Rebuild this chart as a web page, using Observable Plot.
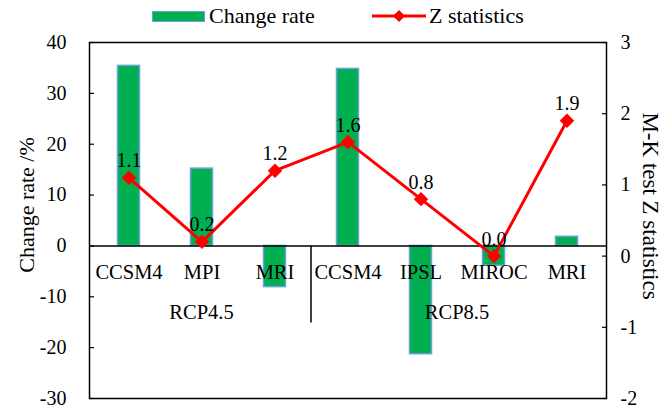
<!DOCTYPE html>
<html><head><meta charset="utf-8">
<script src="https://cdn.jsdelivr.net/npm/d3@7"></script>
<script src="https://cdn.jsdelivr.net/npm/@observablehq/plot@0.6"></script>
<style>
body{margin:0;background:#fff;font-family:"Liberation Serif","Times New Roman",serif;}
#wrap{position:relative;width:665px;height:410px;overflow:hidden;}
#legend{position:relative;height:30px;font-size:22px;color:#000;}
#legend .item{position:absolute;top:0;height:32px;display:flex;align-items:center;white-space:nowrap;}
#chart svg, #chart svg text{font-family:"Liberation Serif","Times New Roman",serif !important;}
</style></head><body>
<div id="wrap"><div id="legend"></div><div id="chart"></div></div>
<script>
const scenarios = ["RCP4.5","RCP4.5","RCP4.5","RCP8.5","RCP8.5","RCP8.5","RCP8.5"];
const models = ["CCSM4","MPI","MRI","CCSM4","IPSL","MIROC","MRI"];
const changeRate = [35.4, 15.2, -8.1, 34.8, -21.3, -3.9, 1.8];
const zStat = [1.1, 0.2, 1.2, 1.6, 0.8, 0.0, 1.9];
const leftTicks = [-30, -20, -10, 0, 10, 20, 30, 40];
const rightTicks = [-2, -1, 0, 1, 2, 3];
const leftDomain = [-30, 40];
const rightDomain = [-2, 3];
const seriesNames = ["Change rate", "Z statistics"];
const leftTitle = "Change rate /%";
const rightTitle = "M-K test Z statistics";

const data = models.map((m, i) => ({key: scenarios[i] + " " + m, scenario: scenarios[i], model: m, rate: changeRate[i], z: zStat[i]}));
const k = (leftDomain[1] - leftDomain[0]) / (rightDomain[1] - rightDomain[0]);
const zToY = z => leftDomain[0] + (z - rightDomain[0]) * k;
const yToZ = y => rightDomain[0] + (y - leftDomain[0]) / k;

const GREEN = "#00B050", BAR_STROKE = "#6FA0DC", RED = "#FF0000";
const FONT = "Liberation Serif, Times New Roman, serif";

// legend
const legend = d3.select("#legend");
const it1 = legend.append("div").attr("class", "item").style("left", "152px");
it1.append("span").style("display", "inline-block").style("width", "51px").style("height", "9px")
  .style("background", GREEN).style("border", "1.5px solid " + BAR_STROKE).style("margin-right", "4px");
it1.append("span").text(seriesNames[0]);
const it2 = legend.append("div").attr("class", "item").style("left", "372px");
const sw = it2.append("svg").attr("width", 54).attr("height", 16).style("margin-right", "3px");
sw.append("line").attr("x1", 0).attr("x2", 54).attr("y1", 8).attr("y2", 8).attr("stroke", RED).attr("stroke-width", 3);
sw.append("path").attr("d", "M27,2L33,8L27,14L21,8Z").attr("fill", RED);
it2.append("span").text(seriesNames[1]);

const chart = Plot.plot({
  width: 665, height: 380,
  marginTop: 12, marginBottom: 12, marginLeft: 89, marginRight: 59,
  style: {fontFamily: FONT, fontSize: "20px", color: "#000", background: "#fff", overflow: "visible"},
  x: {type: "band", domain: data.map(d => d.key), padding: 0, axis: null},
  y: {domain: leftDomain, axis: null},
  marks: [
    Plot.barY(data, {x: "key", y: "rate", fill: GREEN, stroke: BAR_STROKE, strokeWidth: 1.5, insetLeft: 25.5, insetRight: 25.5}),
    Plot.ruleY([0], {stroke: "#000", strokeWidth: 1.5}),
    Plot.frame({stroke: "#000", strokeWidth: 1.5}),
    Plot.axisY({anchor: "left", ticks: leftTicks, tickSize: -5, tickPadding: 28, tickFormat: d => String(d), label: null, fontSize: 20, fontFamily: FONT, strokeWidth: 1.2}),
    Plot.axisY({anchor: "right", ticks: rightTicks.map(zToY), tickSize: -5, tickPadding: 19, tickFormat: v => String(Math.round(yToZ(v))), label: null, fontSize: 20, fontFamily: FONT, strokeWidth: 1.2}),
    Plot.line(data, {x: "key", y: d => zToY(d.z), stroke: RED, strokeWidth: 3}),
    Plot.dot(data, {x: "key", y: d => zToY(d.z), symbol: "diamond2", r: 6.5, fill: RED, stroke: null}),
    Plot.text(data, {x: "key", y: d => zToY(d.z), text: d => d.z.toFixed(1), dy: -17, fontSize: 20, fontFamily: FONT, fill: "#000"}),
    Plot.text(data, {x: "key", y: () => 0, text: "model", dy: 27, fontSize: 20.5, fontFamily: FONT, fill: "#000"})
  ]
});
document.getElementById("chart").appendChild(chart);

// group labels, dividers and axis titles, placed through the plot's own scales
const xs = chart.scale("x"), ys = chart.scale("y");
const svg = d3.select(chart);
const y0 = ys.apply(0);
const groups = Array.from(new Set(scenarios));
groups.forEach((g, gi) => {
  const keys = data.filter(d => d.scenario === g).map(d => d.key);
  const x1 = xs.apply(keys[0]), x2 = xs.apply(keys[keys.length - 1]) + xs.bandwidth;
  svg.append("text").attr("x", (x1 + x2) / 2).attr("y", y0 + 66).attr("dy", "0.35em")
    .attr("text-anchor", "middle").attr("font-family", FONT).attr("font-size", 20.5).attr("fill", "#000").text(g);
  if (gi > 0) {
    svg.append("line").attr("x1", x1).attr("x2", x1).attr("y1", y0).attr("y2", y0 + 77)
      .attr("stroke", "#000").attr("stroke-width", 1.5);
  }
});
const yMid = (ys.range[0] + ys.range[1]) / 2 - 18;
svg.append("text").attr("transform", `translate(26,${yMid + 3}) rotate(-90)`).attr("dy", "0.35em")
  .attr("text-anchor", "middle").attr("font-family", FONT).attr("font-size", 22).attr("fill", "#000").text(leftTitle);
svg.append("text").attr("transform", `translate(651,${yMid + 4}) rotate(90)`).attr("dy", "0.35em")
  .attr("text-anchor", "middle").attr("font-family", FONT).attr("font-size", 23).attr("fill", "#000").text(rightTitle);
</script>
</body></html>
